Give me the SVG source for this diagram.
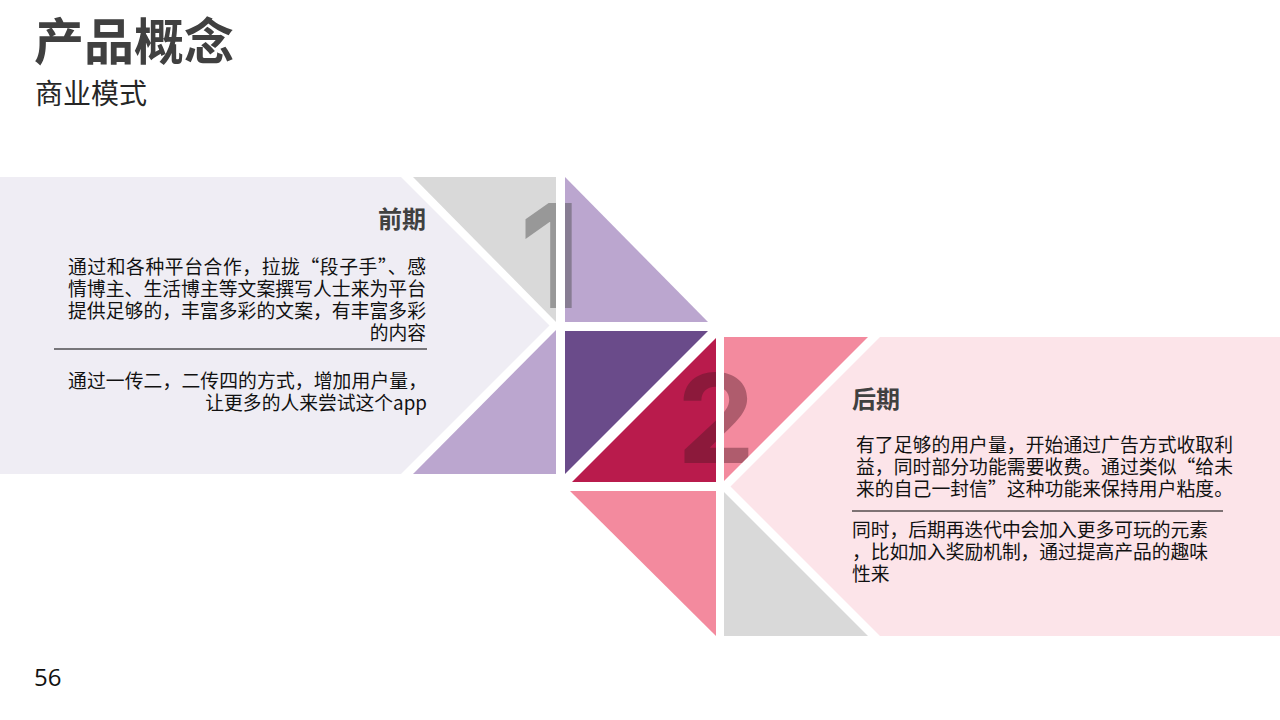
<svg xmlns="http://www.w3.org/2000/svg" width="1280" height="720" viewBox="0 0 1280 720">
<style>
.t{font-family:"Noto Sans CJK SC","Noto Sans",sans-serif}
.title{font-size:50px;font-weight:bold;fill:#404040}
.sub{font-size:28px;fill:#262626}
.head{font-size:24px;font-weight:bold;fill:#404040}
.body{font-size:18.8px;fill:#111111}
.num{font-family:Inter,"Open Sans",sans-serif;font-weight:bold}
.pg{font-family:"Open Sans","Liberation Sans",sans-serif;font-size:24px;fill:#111111}
.rule{stroke:#000000;stroke-width:1.2}
</style>
<defs>
<clipPath id="clip1">
<polygon points="413,177 556,177 556,322"/>
<polygon points="565,177 565,322 708,322"/>
</clipPath>
<clipPath id="clip2">
<polygon points="716,338 716,482 572,482"/>
<polygon points="724,337 868,337 724,481"/>
</clipPath>
</defs>
<rect width="1280" height="720" fill="#ffffff"/>

<g id="header">
<text class="t title" x="34" y="60">产品概念</text>
<text class="t sub" x="35" y="104">商业模式</text>
</g>

<g id="panel-early">
<polygon points="0,177 401,177 549.5,325.5 401,474 0,474" fill="#EFEDF4"/>
<text class="t head" x="426" y="228" text-anchor="end">前期</text>
<text class="t body" x="426" y="274" text-anchor="end" textLength="358" lengthAdjust="spacing">通过和各种平台合作，拉拢“段子手”、感</text>
<text class="t body" x="426" y="296" text-anchor="end" textLength="358" lengthAdjust="spacing">情博主、生活博主等文案撰写人士来为平台</text>
<text class="t body" x="426" y="318" text-anchor="end" textLength="358" lengthAdjust="spacing">提供足够的，丰富多彩的文案，有丰富多彩</text>
<text class="t body" x="426" y="340" text-anchor="end">的内容</text>
<line class="rule" x1="54" y1="349" x2="427" y2="349"/>
<text class="t body" x="427" y="388" text-anchor="end" textLength="359" lengthAdjust="spacing">通过一传二，二传四的方式，增加用户量，</text>
<text class="t body" x="427" y="410" text-anchor="end">让更多的人来尝试这个app</text>
</g>

<g id="tiles-1">
<polygon points="413,177 556,177 556,322" fill="#D9D9D9"/>
<polygon points="565,177 565,322 708,322" fill="#BBA6CF"/>
<polygon points="413,474 556,474 556,330" fill="#BBA6CF"/>
<polygon points="565,331 708,331 565,474" fill="#6A4B8A"/>
<text class="num" x="550" y="308" font-size="144" text-anchor="middle" fill="#4a4a4a" fill-opacity="0.45" clip-path="url(#clip1)">1</text>
</g>

<g id="tiles-2">
<polygon points="716,338 716,482 572,482" fill="#B91B4C"/>
<polygon points="724,337 868,337 724,481" fill="#F38A9E"/>
<polygon points="570,491 716,491 716,636" fill="#F38A9E"/>
<polygon points="724,492 724,636 868,636" fill="#D9D9D9"/>
<text class="num" x="716" y="463" font-size="124" text-anchor="middle" fill="#481723" fill-opacity="0.4" clip-path="url(#clip2)">2</text>
</g>

<g id="panel-late">
<polygon points="880,337 1280,337 1280,636 880,636 730.5,486.5" fill="#FCE4E9"/>
<text class="t head" x="852" y="408">后期</text>
<text class="t body" x="856" y="452" textLength="377" lengthAdjust="spacing">有了足够的用户量，开始通过广告方式收取利</text>
<text class="t body" x="856" y="474" textLength="377" lengthAdjust="spacing">益，同时部分功能需要收费。通过类似“给未</text>
<text class="t body" x="856" y="496" textLength="377" lengthAdjust="spacing">来的自己一封信”这种功能来保持用户粘度。</text>
<line class="rule" x1="852" y1="511" x2="1223" y2="511"/>
<text class="t body" x="852" y="537" textLength="356" lengthAdjust="spacing">同时，后期再迭代中会加入更多可玩的元素</text>
<text class="t body" x="852" y="559" textLength="356" lengthAdjust="spacing">，比如加入奖励机制，通过提高产品的趣味</text>
<text class="t body" x="852" y="581">性来</text>
</g>

<g id="connectors"></g>

<g id="page-number">
<text class="pg" x="34" y="686">56</text>
</g>
</svg>
